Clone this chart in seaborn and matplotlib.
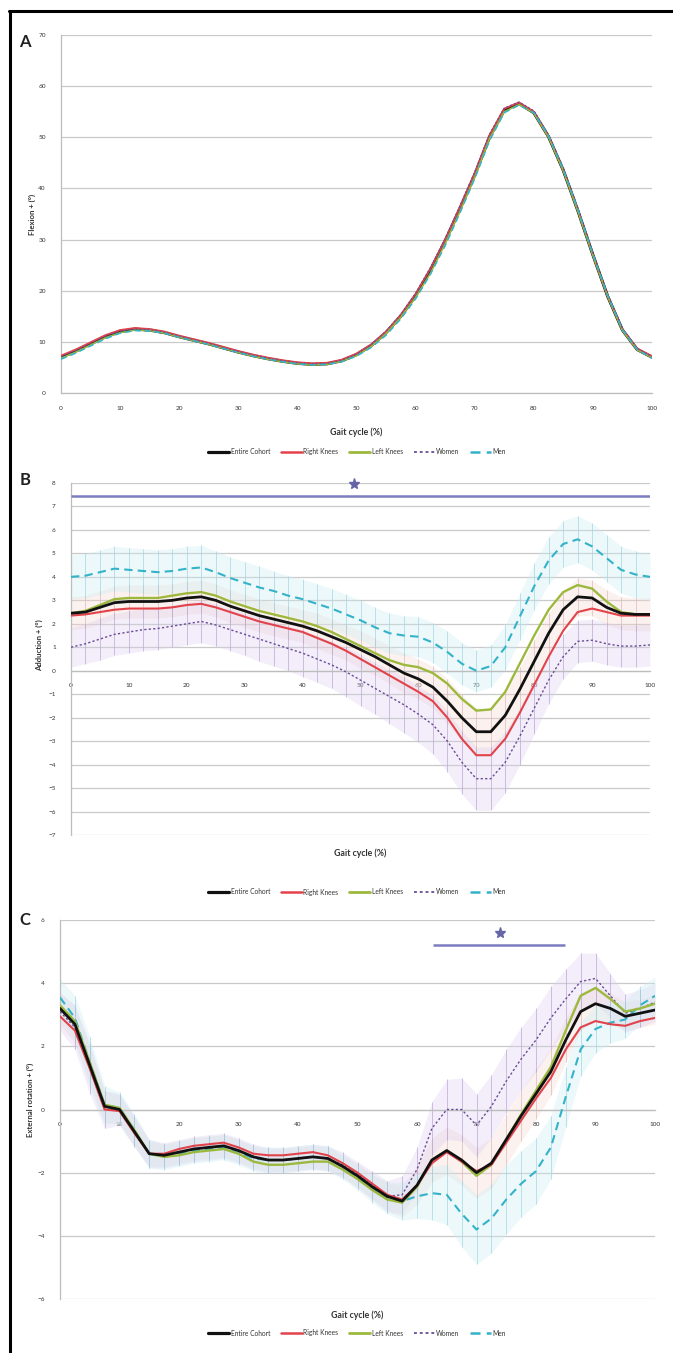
import numpy as np
import pandas as pd
import matplotlib
matplotlib.use("Agg")
import matplotlib.pyplot as plt
from matplotlib.lines import Line2D
import seaborn as sns

# ---------------------------------------------------------------- data
gait_pct = [0, 2.5, 5, 7.5, 10, 12.5, 15, 17.5, 20, 22.5, 25, 27.5, 30, 32.5, 35,
            37.5, 40, 42.5, 45, 47.5, 50, 52.5, 55, 57.5, 60, 62.5, 65, 67.5, 70,
            72.5, 75, 77.5, 80, 82.5, 85, 87.5, 90, 92.5, 95, 97.5, 100]

series_names = ["Entire Cohort", "Right Knees", "Left Knees", "Women", "Men"]

# Panel A: flexion (deg)
flex_entire = [7.0, 8.2, 9.6, 11.0, 12.0, 12.5, 12.3, 11.8, 11.0, 10.3, 9.6, 8.8, 8.0, 7.3, 6.7,
               6.2, 5.8, 5.6, 5.7, 6.3, 7.5, 9.3, 11.8, 15.0, 19.0, 24.0, 29.7, 36.0, 42.6,
               50.0, 55.3, 56.6, 54.8, 50.1, 43.5, 35.5, 27.0, 18.9, 12.3, 8.5, 7.0]
flex_right = [7.3, 8.5, 9.9, 11.3, 12.3, 12.7, 12.5, 12.0, 11.2, 10.5, 9.8, 9.0, 8.2, 7.5, 6.9,
              6.4, 6.0, 5.8, 5.9, 6.5, 7.7, 9.5, 12.0, 15.3, 19.4, 24.3, 30.0, 36.4, 43.0,
              50.4, 55.6, 56.8, 55.0, 50.2, 43.6, 35.6, 27.0, 18.9, 12.4, 8.7, 7.2]
flex_left = [6.8, 8.0, 9.4, 10.8, 11.8, 12.3, 12.2, 11.7, 10.9, 10.2, 9.5, 8.7, 7.9, 7.2, 6.6,
             6.1, 5.7, 5.5, 5.6, 6.2, 7.3, 9.1, 11.6, 14.8, 18.7, 23.4, 29.2, 35.5, 42.2,
             49.7, 55.0, 56.4, 54.7, 50.0, 43.4, 35.4, 26.9, 18.9, 12.2, 8.4, 6.9]
flex_women = [7.1, 8.3, 9.7, 11.1, 12.1, 12.5, 12.4, 11.9, 11.1, 10.4, 9.7, 8.9, 8.1, 7.4, 6.8,
              6.3, 5.9, 5.7, 5.8, 6.4, 7.6, 9.5, 12.1, 15.4, 19.5, 24.5, 30.2, 36.6, 43.2,
              50.6, 55.7, 56.9, 55.2, 50.5, 44.0, 36.0, 27.4, 19.2, 12.6, 8.7, 7.1]
flex_men = [6.6, 7.8, 9.2, 10.6, 11.7, 12.2, 12.1, 11.7, 10.9, 10.2, 9.5, 8.7, 7.9, 7.2, 6.6,
            6.1, 5.7, 5.5, 5.6, 6.1, 7.2, 8.9, 11.3, 14.5, 18.4, 23.2, 28.8, 35.2, 41.9,
            49.3, 54.8, 56.3, 54.8, 50.3, 43.7, 35.8, 27.2, 19.1, 12.4, 8.5, 6.8]

# Panel B: adduction (deg)
add_entire = [2.45, 2.5, 2.7, 2.9, 2.95, 2.95, 2.95, 3.0, 3.1, 3.15, 3.0, 2.75, 2.55, 2.35, 2.2,
              2.05, 1.9, 1.7, 1.45, 1.2, 0.9, 0.6, 0.25, -0.1, -0.35, -0.7, -1.3, -2.0, -2.6,
              -2.6, -1.9, -0.8, 0.4, 1.6, 2.6, 3.15, 3.1, 2.7, 2.45, 2.4, 2.4]
add_right = [2.35, 2.4, 2.5, 2.6, 2.65, 2.65, 2.65, 2.7, 2.8, 2.85, 2.7, 2.5, 2.3, 2.1, 1.95,
             1.8, 1.65, 1.4, 1.15, 0.85, 0.5, 0.15, -0.2, -0.55, -0.9, -1.3, -2.0, -2.9, -3.6,
             -3.6, -2.9, -1.8, -0.6, 0.6, 1.7, 2.5, 2.65, 2.5, 2.35, 2.35, 2.35]
add_left = [2.45, 2.55, 2.8, 3.05, 3.1, 3.1, 3.1, 3.2, 3.3, 3.35, 3.2, 2.95, 2.75, 2.55, 2.4,
            2.25, 2.1, 1.9, 1.65, 1.35, 1.05, 0.75, 0.45, 0.25, 0.15, -0.1, -0.55, -1.2, -1.7,
            -1.65, -0.9, 0.3, 1.5, 2.6, 3.35, 3.65, 3.5, 2.95, 2.5, 2.4, 2.4]
add_women = [1.0, 1.15, 1.35, 1.55, 1.65, 1.75, 1.8, 1.9, 2.0, 2.1, 1.95, 1.75, 1.55, 1.35, 1.15,
             0.95, 0.75, 0.5, 0.25, -0.05, -0.4, -0.75, -1.1, -1.45, -1.85, -2.3, -3.0, -3.9, -4.6,
             -4.6, -3.9, -2.8, -1.6, -0.4, 0.6, 1.25, 1.3, 1.15, 1.05, 1.05, 1.1]
add_men = [4.0, 4.05, 4.2, 4.35, 4.3, 4.25, 4.2, 4.25, 4.35, 4.4, 4.2, 3.95, 3.75, 3.55, 3.4,
           3.2, 3.05, 2.85, 2.65, 2.4, 2.15, 1.85, 1.6, 1.5, 1.45, 1.2, 0.8, 0.3, 0.0,
           0.2, 1.0, 2.3, 3.6, 4.7, 5.4, 5.6, 5.3, 4.8, 4.3, 4.1, 4.0]
add_sd_entire = [0.7, 0.7, 0.7, 0.7, 0.7, 0.7, 0.7, 0.7, 0.7, 0.7, 0.7, 0.7, 0.7, 0.7, 0.7,
                 0.7, 0.7, 0.75, 0.75, 0.75, 0.8, 0.8, 0.8, 0.85, 0.85, 0.9, 0.95, 1.0, 1.0,
                 1.0, 1.0, 0.95, 0.9, 0.85, 0.8, 0.8, 0.75, 0.75, 0.7, 0.7, 0.7]
add_sd_women = [0.85, 0.85, 0.9, 0.9, 0.9, 0.9, 0.9, 0.9, 0.9, 0.9, 0.9, 0.9, 0.9, 0.95, 0.95,
                0.95, 1.0, 1.0, 1.0, 1.05, 1.1, 1.1, 1.15, 1.2, 1.2, 1.25, 1.3, 1.35, 1.35,
                1.35, 1.3, 1.2, 1.1, 1.0, 0.95, 0.9, 0.9, 0.9, 0.9, 0.9, 0.9]
add_sd_men = [0.95, 0.95, 0.95, 0.95, 0.95, 0.95, 0.95, 0.95, 0.95, 0.95, 0.9, 0.9, 0.9, 0.9, 0.85,
              0.85, 0.85, 0.85, 0.85, 0.85, 0.85, 0.85, 0.85, 0.85, 0.85, 0.85, 0.9, 0.9, 0.9,
              0.9, 0.95, 1.0, 1.0, 1.0, 1.0, 1.0, 1.0, 1.0, 1.0, 1.0, 1.0]

# Panel C: external rotation (deg)
rot_entire = [3.2, 2.7, 1.4, 0.1, 0.0, -0.7, -1.4, -1.45, -1.35, -1.25, -1.2, -1.15, -1.3, -1.5, -1.6,
              -1.6, -1.55, -1.5, -1.55, -1.8, -2.1, -2.45, -2.75, -2.9, -2.4, -1.6, -1.3, -1.6, -2.0,
              -1.7, -0.95, -0.2, 0.5, 1.2, 2.2, 3.1, 3.35, 3.2, 2.95, 3.05, 3.15]
rot_right = [2.95, 2.5, 1.3, 0.0, -0.05, -0.75, -1.4, -1.4, -1.25, -1.15, -1.1, -1.05, -1.2, -1.4, -1.45,
             -1.45, -1.4, -1.35, -1.45, -1.7, -2.0, -2.35, -2.7, -2.85, -2.4, -1.7, -1.35, -1.65, -1.95,
             -1.75, -1.05, -0.35, 0.35, 1.0, 1.9, 2.6, 2.8, 2.7, 2.65, 2.8, 2.9]
rot_left = [3.3, 2.8, 1.5, 0.15, 0.05, -0.65, -1.4, -1.5, -1.45, -1.35, -1.3, -1.25, -1.4, -1.65, -1.75,
            -1.75, -1.7, -1.65, -1.65, -1.9, -2.2, -2.55, -2.85, -2.95, -2.45, -1.6, -1.3, -1.65, -2.1,
            -1.75, -0.95, -0.15, 0.6, 1.35, 2.5, 3.6, 3.85, 3.5, 3.1, 3.2, 3.35]
rot_women = [3.1, 2.6, 1.3, 0.0, 0.0, -0.7, -1.4, -1.45, -1.35, -1.25, -1.2, -1.15, -1.3, -1.5, -1.6,
             -1.6, -1.55, -1.5, -1.55, -1.75, -2.05, -2.4, -2.75, -2.7, -1.9, -0.6, 0.0, 0.0, -0.5,
             0.1, 0.9, 1.6, 2.2, 2.9, 3.5, 4.05, 4.15, 3.6, 3.05, 3.2, 3.4]
rot_men = [3.55, 2.9, 1.5, 0.15, 0.05, -0.65, -1.4, -1.5, -1.4, -1.3, -1.25, -1.2, -1.35, -1.55, -1.6,
           -1.6, -1.55, -1.5, -1.55, -1.8, -2.15, -2.5, -2.8, -2.9, -2.75, -2.65, -2.7, -3.3, -3.8,
           -3.45, -2.85, -2.35, -1.95, -1.2, 0.4, 1.9, 2.55, 2.75, 2.85, 3.3, 3.6]
rot_sd_entire = [0.5, 0.6, 0.6, 0.5, 0.45, 0.45, 0.4, 0.35, 0.35, 0.35, 0.35, 0.35, 0.35, 0.35, 0.35,
                 0.35, 0.35, 0.35, 0.35, 0.35, 0.4, 0.4, 0.45, 0.5, 0.6, 0.7, 0.75, 0.8, 0.8,
                 0.8, 0.8, 0.8, 0.8, 0.75, 0.7, 0.6, 0.55, 0.5, 0.45, 0.45, 0.45]
rot_sd_women = [0.6, 0.7, 0.8, 0.6, 0.5, 0.5, 0.45, 0.4, 0.4, 0.4, 0.4, 0.4, 0.4, 0.4, 0.4,
                0.4, 0.4, 0.4, 0.4, 0.4, 0.4, 0.45, 0.5, 0.6, 0.7, 0.85, 0.95, 1.0, 1.0,
                1.0, 1.0, 1.0, 1.0, 1.0, 0.95, 0.9, 0.8, 0.7, 0.6, 0.6, 0.6]
rot_sd_men = [0.6, 0.7, 0.8, 0.6, 0.5, 0.5, 0.45, 0.4, 0.4, 0.4, 0.4, 0.4, 0.4, 0.4, 0.4,
              0.4, 0.4, 0.4, 0.4, 0.4, 0.4, 0.45, 0.5, 0.6, 0.7, 0.85, 0.95, 1.05, 1.1,
              1.1, 1.1, 1.05, 1.05, 1.0, 0.95, 0.85, 0.75, 0.65, 0.6, 0.6, 0.6]

# significance bars (x range in % gait cycle, y level in deg)
sig_B = (0, 100, 7.45)
sig_C = (62.7, 84.9, 5.2)

# ---------------------------------------------------------------- styling
sns.set_style("white")
plt.rcParams["font.family"] = ["Lato", "DejaVu Sans"]

COLORS = {"Entire Cohort": "#111111", "Right Knees": "#e2434b", "Left Knees": "#9cb93e",
          "Women": "#6a4c97", "Men": "#33b3c9"}
STYLES = {"Entire Cohort": dict(lw=2.0, ls="-"),
          "Right Knees": dict(lw=1.5, ls="-"),
          "Left Knees": dict(lw=1.7, ls="-"),
          "Women": dict(lw=1.0, ls=(0, (1.6, 1.6))),
          "Men": dict(lw=1.5, ls=(0, (4.0, 2.5)))}
SIG_COLOR = "#7c7cc0"
GRID = "#c9c9c9"

W, H = 673, 1353
fig = plt.figure(figsize=(W / 100, H / 100), dpi=100)


def fig_rect(left, top, right, bottom):
    return [left / W, 1 - bottom / H, (right - left) / W, (bottom - top) / H]


def frame_axes(ax, yticks, ylim, xaxis_at_zero):
    ax.set_xlim(0, 100)
    ax.set_ylim(*ylim)
    ax.set_yticks(yticks)
    ax.set_xticks(range(0, 101, 10))
    for y in yticks:
        ax.axhline(y, color=GRID, lw=0.9, zorder=0)
    for s in ["top", "right"]:
        ax.spines[s].set_visible(False)
    ax.spines["left"].set_color("#bdbdbd")
    ax.spines["left"].set_linewidth(0.9)
    ax.spines["bottom"].set_color("#bdbdbd")
    ax.spines["bottom"].set_linewidth(0.9)
    if xaxis_at_zero:
        ax.spines["bottom"].set_position(("data", 0))
    ax.tick_params(axis="both", labelsize=4.6, colors="#9a9a9a", labelcolor="#333333",
                   length=2, width=0.6)
    ax.tick_params(axis="y", pad=9)
    ax.tick_params(axis="x", pad=7)


def draw_band(ax, x, mean, sd, fill, bar):
    m = np.asarray(mean)
    s = np.asarray(sd)
    ax.fill_between(x, m - s, m + s, color=fill, alpha=0.35, lw=0, zorder=1)
    ax.vlines(x, m - s, m + s, color=bar, lw=0.6, alpha=0.8, zorder=1.5)


def draw_series(ax, x, data, order, widths=None):
    for name in order:
        st = STYLES[name]
        lw = st["lw"] if widths is None else widths[name]
        sns.lineplot(x=x, y=data[name], ax=ax, color=COLORS[name], lw=lw,
                     linestyle=st["ls"], zorder=3, legend=False)


def add_legend(ycenter_px):
    handles = [Line2D([], [], color=COLORS[n], lw=STYLES[n]["lw"] + 0.3, ls=STYLES[n]["ls"])
               for n in series_names]
    fig.legend(handles, series_names, loc="center", ncol=5, frameon=False,
               bbox_to_anchor=(357 / W, 1 - ycenter_px / H), fontsize=4.8,
               handlelength=3.2, handletextpad=0.2, columnspacing=1.6,
               labelcolor="#333333")


def labels(ax, ylabel, ylab_x, ylab_y, xlab_y):
    ax.set_xlabel("Gait cycle (%)", fontsize=6.3, fontweight="bold", color="#333333")
    ax.set_ylabel(ylabel, fontsize=5.6, fontweight="bold", color="#333333")
    ax.xaxis.set_label_coords(0.5, xlab_y)
    ax.yaxis.set_label_coords(ylab_x, ylab_y)


front_order = ["Women", "Men", "Left Knees", "Right Knees", "Entire Cohort"]

# ---------------------------------------------------------------- panel A
axA = fig.add_axes(fig_rect(61, 35, 652, 393))
frame_axes(axA, list(range(0, 71, 10)), (0, 70), False)
dfA = {"Entire Cohort": flex_entire, "Right Knees": flex_right, "Left Knees": flex_left,
       "Women": flex_women, "Men": flex_men}
# near-identical curves: black underneath, thinner coloured traces over it
draw_series(axA, gait_pct, dfA,
            ["Entire Cohort", "Right Knees", "Left Knees", "Women", "Men"],
            widths={"Entire Cohort": 2.2, "Right Knees": 1.4, "Left Knees": 1.2,
                    "Women": 0.9, "Men": 1.1})
labels(axA, "Flexion + (°)", -0.042, 0.5, -0.095)
add_legend(452)

# ---------------------------------------------------------------- panel B
axB = fig.add_axes(fig_rect(71, 483, 650, 835))
frame_axes(axB, list(range(-7, 9)), (-7, 8), True)
draw_band(axB, gait_pct, add_entire, add_sd_entire, "#f6d7cf", "#d9b8b8")
draw_band(axB, gait_pct, add_women, add_sd_women, "#ddd0ee", "#b9a6d4")
draw_band(axB, gait_pct, add_men, add_sd_men, "#ccecf3", "#9fd5e2")
dfB = {"Entire Cohort": add_entire, "Right Knees": add_right, "Left Knees": add_left,
       "Women": add_women, "Men": add_men}
draw_series(axB, gait_pct, dfB, front_order)
axB.hlines(sig_B[2], sig_B[0], sig_B[1], color=SIG_COLOR, lw=1.8, zorder=4)
axB.plot([48.8], [7.95], marker="*", ms=8, color="#6565a8", zorder=5, clip_on=False)
labels(axB, "Adduction + (°)", -0.048, 0.54, -0.037)
add_legend(892)

# ---------------------------------------------------------------- panel C
axC = fig.add_axes(fig_rect(60, 920, 655, 1299))
frame_axes(axC, list(range(-6, 7, 2)), (-6, 6), True)
draw_band(axC, gait_pct, rot_entire, rot_sd_entire, "#f6d7cf", "#d9b8b8")
draw_band(axC, gait_pct, rot_women, rot_sd_women, "#ddd0ee", "#b9a6d4")
draw_band(axC, gait_pct, rot_men, rot_sd_men, "#ccecf3", "#9fd5e2")
dfC = {"Entire Cohort": rot_entire, "Right Knees": rot_right, "Left Knees": rot_left,
       "Women": rot_women, "Men": rot_men}
draw_series(axC, gait_pct, dfC, front_order)
axC.hlines(sig_C[2], sig_C[0], sig_C[1], color=SIG_COLOR, lw=1.8, zorder=4)
axC.plot([74.0], [5.6], marker="*", ms=8, color="#6565a8", zorder=5, clip_on=False)
labels(axC, "External rotation + (°)", -0.043, 0.525, -0.029)
add_legend(1333)

# ---------------------------------------------------------------- panel letters and frame
for letter, (px, py) in {"A": (25, 42), "B": (25, 480), "C": (25, 920)}.items():
    fig.text(px / W, 1 - py / H, letter, fontsize=12, fontweight="bold",
             color="#222222", ha="center", va="center")

fig.add_artist(Line2D([10 / W, 10 / W], [0, 1 - 11 / H], color="black", lw=2.2,
                      transform=fig.transFigure))
fig.add_artist(Line2D([9 / W, 1.0], [1 - 11 / H, 1 - 11 / H], color="black", lw=2.2,
                      transform=fig.transFigure))

fig.savefig("out.png", dpi=100, facecolor="white")
